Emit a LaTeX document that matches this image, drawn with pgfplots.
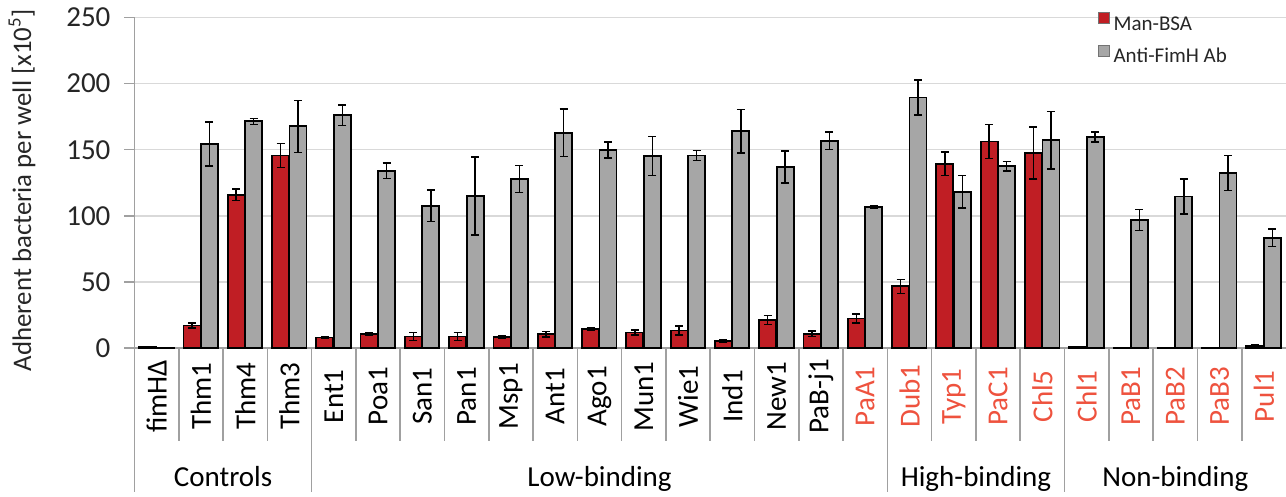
\documentclass[border=0pt]{standalone}
\usepackage{pgfplots}
\pgfplotsset{compat=1.18}
\usepackage{pgfplotstable}
\usepackage{fontspec}
\setmainfont{Carlito}
\definecolor{barred}{RGB}{192,30,36}
\definecolor{bargray}{RGB}{166,166,166}
\definecolor{labred}{RGB}{238,82,62}
\definecolor{gridgray}{RGB}{217,217,217}
\definecolor{axisgray}{RGB}{160,160,160}

\pgfplotstableread{
x red rerr gray gerr
0 1.0 0.3 0.3 0.1
1 17.2 2.0 154.4 16.7
2 116.0 4.4 171.4 2.3
3 145.6 9.2 167.6 19.7
4 8.1 0.5 176.0 7.6
5 10.9 1.0 134.0 5.8
6 8.9 3.0 107.6 11.8
7 8.9 3.0 115.0 29.4
8 8.4 0.8 127.8 10.1
9 10.6 2.2 162.8 18.0
10 14.4 1.0 149.9 6.0
11 11.9 2.0 145.3 14.8
12 13.4 3.3 145.6 3.8
13 5.6 1.2 164.0 16.5
14 21.3 3.4 137.0 12.2
15 10.9 2.0 156.7 6.6
16 22.5 3.5 106.6 1.0
17 46.8 5.3 189.4 13.2
18 139.5 8.9 118.2 12.3
19 156.2 12.9 137.5 3.7
20 147.6 19.6 157.2 21.8
21 1.0 0.3 159.5 3.8
22 0.3 0.1 97.0 8.0
23 0.3 0.1 114.7 13.3
24 0.3 0.1 132.4 13.3
25 2.0 0.6 83.5 6.6
}\datatable

\begin{document}
\begin{tikzpicture}
\begin{axis}[
  name=ax,
  scale only axis,
  width=575.75pt, height=165.5pt,
  xmin=-0.5, xmax=25.5,
  ymin=0, ymax=250,
  clip=false,
  ybar,
  bar width=8.5pt,
  axis lines*=left,
  axis line style={draw=axisgray, line width=0.8pt},
  ytick={0,50,100,150,200,250},
  ymajorgrids,
  grid style={draw=gridgray, line width=0.8pt},
  tick align=outside,
  major tick length=5pt,
  ytick style={draw=axisgray, line width=0.8pt},
  xtick={0,...,25},
  xtick style={draw=none},
  xticklabels={fimHΔ,Thm1,Thm4,Thm3,Ent1,Poa1,San1,Pan1,Msp1,Ant1,Ago1,Mun1,Wie1,Ind1,New1,PaB-j1,
    \textcolor{labred}{PaA1},\textcolor{labred}{Dub1},\textcolor{labred}{Typ1},\textcolor{labred}{PaC1},\textcolor{labred}{Chl5},
    \textcolor{labred}{Chl1},\textcolor{labred}{PaB1},\textcolor{labred}{PaB2},\textcolor{labred}{PaB3},\textcolor{labred}{Pul1}},
  xticklabel style={rotate=90, anchor=center, font=\fontsize{14.5}{16}\selectfont, text=black},
  xticklabel shift=19pt,
  /pgf/number format/assume math mode=true,
  yticklabel style={font=\fontsize{14.5}{16}\selectfont, text=black!85, xshift=-3.5pt},
  ylabel={Adherent bacteria per well [x10\textsuperscript{5}]},
  every axis y label/.style={at={(axis description cs:-0.0977,0.478)}, rotate=90, anchor=center, font=\fontsize{13.4}{15}\selectfont, text=black!85},
  legend style={at={(axis description cs:0.836,1.016)}, anchor=north west, draw=none, fill=none,
    inner sep=0pt, row sep=3.5pt, font=\fontsize{10.5}{12}\selectfont, text=black!85},
  legend cell align=left,
  legend image code/.code={\draw[#1,/tikz/.cd,draw=black!55,line width=0.5pt] (0pt,0.6pt) rectangle (5.5pt,6.1pt);},
  error bars/y dir=both,
  error bars/y explicit,
  error bars/error bar style={line width=0.75pt, black},
  error bars/error mark options={rotate=90, mark size=2pt, line width=0.75pt, black},
]
\addplot[fill=barred, draw=black, line width=0.9pt, bar shift=-4.5pt]
  table[x=x, y=red, y error=rerr] {\datatable};
\addlegendentry{Man-BSA}
\addplot[fill=bargray, draw=black, line width=0.9pt, bar shift=4.25pt]
  table[x=x, y=gray, y error=gerr] {\datatable};
\addlegendentry{Anti-FimH Ab}

\pgfplotsinvokeforeach{0.5,1.5,2.5,4.5,5.5,6.5,7.5,8.5,9.5,10.5,11.5,12.5,13.5,14.5,15.5,17.5,18.5,19.5,21.5,22.5,23.5,24.5}{
  \draw[axisgray, line width=0.8pt] (axis cs:#1,0) -- ++(0pt,-46.5pt);
}
\pgfplotsinvokeforeach{-0.5,3.5,16.5,20.5}{
  \draw[axisgray, line width=0.8pt] (axis cs:#1,0) -- ++(0pt,-72pt);
}
\node[anchor=base, font=\fontsize{14.5}{16}\selectfont] at ([yshift=-69.3pt]axis cs:1.5,0) {Controls};
\node[anchor=base, font=\fontsize{14.5}{16}\selectfont] at ([yshift=-69.3pt]axis cs:10,0) {Low-binding};
\node[anchor=base, font=\fontsize{14.5}{16}\selectfont] at ([yshift=-69.3pt]axis cs:18.5,0) {High-binding};
\node[anchor=base, font=\fontsize{14.5}{16}\selectfont] at ([yshift=-69.3pt]axis cs:23,0) {Non-binding};
\end{axis}
\pgfresetboundingbox
\path ([xshift=-67.25pt, yshift=-74.35pt]ax.south west) rectangle ([yshift=8.65pt]ax.north east);
\end{tikzpicture}
\end{document}
